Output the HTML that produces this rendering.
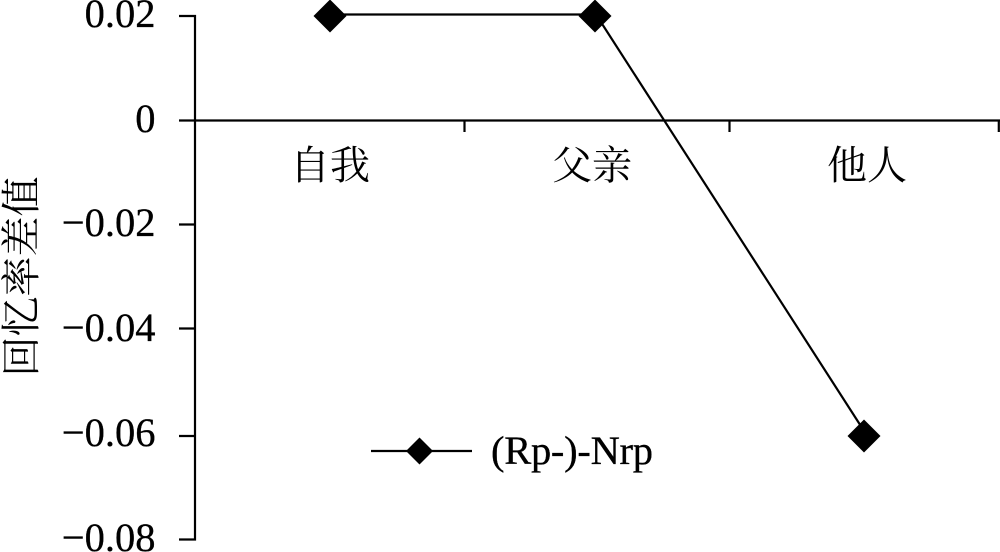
<!DOCTYPE html>
<html lang="zh">
<head>
<meta charset="utf-8">
<style>
html,body{margin:0;padding:0;background:#fff;width:1000px;height:552px;overflow:hidden}
svg{display:block}
.n{font-family:"Liberation Serif",serif;font-size:40.5px;fill:#000;stroke:#000;stroke-width:.3px}
.c{font-family:"Liberation Serif","Noto Serif CJK SC",serif;font-size:40px;fill:#000}
</style>
</head>
<body>
<svg width="1000" height="552" viewBox="0 0 1000 552" xmlns="http://www.w3.org/2000/svg">
<g stroke="#000" stroke-width="2.2" fill="none">
<path d="M179 16H195V539.5H179"/>
<path d="M179 120.5H1000"/>
<path d="M179 224.5H195M179 328.5H195M179 436H195"/>
<path d="M464.5 120.5V132M729.5 120.5V132M998.8 120.5V132"/>
<path d="M330 14.5H595"/>
<path d="M597 16L866 434"/>
<path d="M371 451H472"/>
</g>
<g fill="#000">
<path d="M330 -0.5L346.5 16L330 32.5L313.5 16Z"/>
<path d="M595 -0.5L611.5 16L595 32.5L578.5 16Z"/>
<path d="M864 419.5L880.5 436L864 452.5L847.5 436Z"/>
<path d="M419.5 437.5L433 451L419.5 464.5L406 451Z"/>
</g>
<g class="n" text-anchor="end">
<text x="155.5" y="27">0.02</text>
<text x="155.5" y="132">0</text>
<text x="155.5" y="236">−0.02</text>
<text x="155.5" y="341">−0.04</text>
<text x="155.5" y="446">−0.06</text>
<text x="155.5" y="551">−0.08</text>
</g>
<text class="n" x="491" y="464" textLength="162">(Rp-)-Nrp</text>
<g class="c" text-anchor="middle">
<text x="330" y="179">自我</text>
<text x="592" y="179">父亲</text>
<text x="867" y="179">他人</text>
<text transform="translate(35,276.5) rotate(-90)">回忆率差值</text>
</g>
</svg>
</body>
</html>
